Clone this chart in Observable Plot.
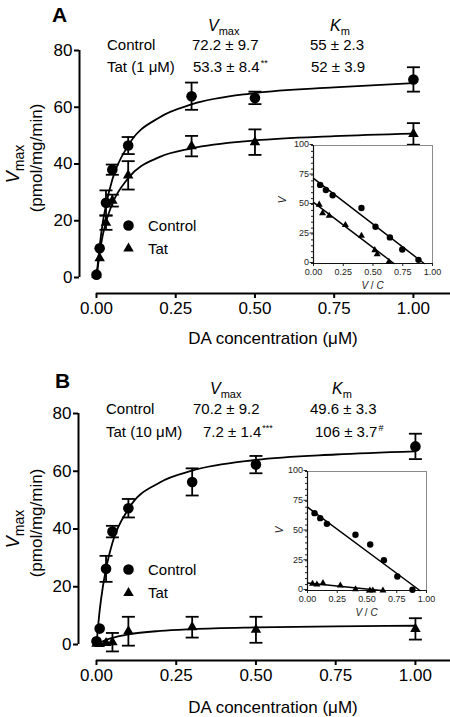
<!DOCTYPE html>
<html>
<head>
<meta charset="utf-8">
<script src="https://cdn.jsdelivr.net/npm/d3@7"></script>
<script src="https://cdn.jsdelivr.net/npm/@observablehq/plot@0.6"></script>
<style>
  html, body { margin: 0; padding: 0; background: white; }
  #root { position: relative; width: 450px; height: 717px; overflow: hidden; background: white; }
</style>
</head>
<body>
<div id="root"></div>
<script>
// ---------------- DATA ----------------
const conc = [0, 0.01, 0.03, 0.05, 0.1, 0.3, 0.5, 1];
const xTicks = [0, 0.25, 0.5, 0.75, 1];
const yTicks = [0, 20, 40, 60, 80];
const insetXTicks = [0, 0.25, 0.5, 0.75, 1];
const insetYTicks = [0, 25, 50, 75, 100];

// Panel A (Tat 1 uM)
const ctrlA = [1, 10.3, 26.3, 38, 46.5, 63.9, 63.3, 69.8];
const ctrlAErr = [0, 0, 4.4, 1.8, 3, 4.8, 2.2, 4.3];
const tatA = [1, 6.8, 19.3, 27.1, 36, 46.3, 47.7, 50.6];
const tatAErr = [0, 0, 2.5, 2.1, 5, 3.6, 4.5, 3.8];
// Panel B (Tat 10 uM)
const ctrlB = [1.1, 5.5, 26.2, 39.1, 47.2, 56.3, 62.3, 68.6];
const ctrlBErr = [0, 0, 4.5, 2, 3.2, 4.7, 3, 4.4];
const tatB = [0.3, 0.2, 0.5, 0.8, 4.6, 6.0, 5.1, 5.4];
const tatBErr = [0, 0, 0, 3.2, 5, 3.6, 4.5, 3.7];

// fitted curves
const fitX = [0, 0.01, 0.02, 0.03, 0.05, 0.1, 0.2, 0.3, 0.5, 0.75, 1];
const fitCtrlA = [0, 11, 19.5, 25.5, 34.5, 46.5, 56.5, 61, 65, 67, 68.5];
const fitTatA = [0, 8.5, 15, 19.5, 26, 35, 42.5, 45.5, 48.3, 49.8, 50.7];
const fitCtrlB = [0, 11.8, 20, 26.2, 35.2, 46.9, 56.2, 60.2, 63.9, 65.8, 66.9];
const fitTatB = [0, 0.6, 1.1, 1.6, 2.3, 3.5, 4.7, 5.3, 5.9, 6.3, 6.5];

// Insets (Eadie-Hofstee: V vs V/C)
const insCtrlAx = [0.056, 0.104, 0.161, 0.403, 0.521, 0.642, 0.746, 0.882];
const insCtrlAy = [66.6, 62.3, 57.8, 47, 31.2, 22.1, 11.9, 3.1];
const insTatAx = [0.048, 0.076, 0.132, 0.268, 0.403, 0.515, 0.535, 0.634];
const insTatAy = [49.9, 42.5, 40.5, 32.6, 23.5, 11.3, 7.9, 1.4];
const insLineCtrlAx = [0, 0.93], insLineCtrlAy = [72.2, 0];
const insLineTatAx = [0, 0.676], insLineTatAy = [51.8, 0];

const insCtrlBx = [0.059, 0.107, 0.163, 0.403, 0.527, 0.642, 0.755, 0.882];
const insCtrlBy = [65, 60.8, 56, 46.8, 38.7, 25.5, 11.8, 0.6];
const insTatBx = [0.042, 0.079, 0.13, 0.276, 0.403, 0.524, 0.549, 0.634];
const insTatBy = [5.6, 5, 6.2, 4.2, 1.1, 0, 0, 0];
const insLineCtrlBx = [0, 0.944], insLineCtrlBy = [70, 0];
const insLineTatBx = [0, 0.62], insLineTatBy = [6.4, 0];

// Texts
const panelLetters = ["A", "B"];
const groupNames = ["Control", "Tat"];
const headerRowsA = ["Control", "Tat (1 \u03bcM)"];
const headerRowsB = ["Control", "Tat (10 \u03bcM)"];
const vmaxA = ["72.2 \u00b1 9.7", "53.3 \u00b1 8.4"], vmaxAMark = ["", "**"];
const kmA = ["55 \u00b1 2.3", "52 \u00b1 3.9"], kmAMark = ["", ""];
const vmaxB = ["70.2 \u00b1 9.2", "7.2 \u00b1 1.4"], vmaxBMark = ["", "***"];
const kmB = ["49.6 \u00b1 3.3", "106 \u00b1 3.7"], kmBMark = ["", "#"];
const xTitle = "DA concentration (\u03bcM)";
const yUnit = "(pmol/mg/min)";

// ---------------- HELPERS ----------------
const FONT = '"Liberation Sans", Arial, Helvetica, sans-serif';
const root = document.getElementById("root");
const zip = (xs, ys, es) => xs.map((x, i) => ({x, y: ys[i], e: es ? es[i] : 0}));
const cap = {draw(ctx) { ctx.moveTo(-6.5, 0); ctx.lineTo(6.5, 0); }};

function place(el, left, top) {
  el.style.position = "absolute";
  el.style.left = left + "px";
  el.style.top = top + "px";
  root.appendChild(el);
}
function addText(html, left, top, css = "") {
  const d = document.createElement("div");
  d.innerHTML = html;
  d.style.cssText = `position:absolute;left:${left}px;top:${top}px;line-height:1;white-space:nowrap;font-family:${FONT};color:black;` + css;
  root.appendChild(d);
  return d;
}
const sub = (t, fs = 11, dy = 4) => `<span style="font-size:${fs}px;position:relative;top:${dy}px">${t}</span>`;
const sup = (t) => t ? `<span style="font-size:9px;position:relative;top:-6px;margin-left:1px">${t}</span>` : "";

function mainPlot(cfg) {
  const ctrl = zip(conc, cfg.ctrl, cfg.ctrlErr);
  const tat = zip(conc, cfg.tat, cfg.tatErr);
  const bars = [...ctrl, ...tat].filter(d => d.e > 0);
  const caps = bars.flatMap(d => [{x: d.x, y: d.y - d.e}, {x: d.x, y: d.y + d.e}]);
  return Plot.plot({
    width: 450, height: cfg.height,
    marginLeft: cfg.ml, marginRight: 0, marginTop: cfg.mt, marginBottom: cfg.mb,
    x: {domain: cfg.xd},
    y: {domain: cfg.yd},
    style: {fontFamily: FONT, fontSize: "17px", background: "transparent", color: "black", overflow: "visible"},
    marks: [
      Plot.ruleX([cfg.xd[0]], {y1: 0, y2: 80, strokeWidth: 2, stroke: "black"}),
      Plot.ruleY([cfg.yd[0]], {x1: 0, x2: cfg.xd[1], strokeWidth: 2, stroke: "black"}),
      Plot.axisY({ticks: yTicks, tickSize: 5, tickPadding: 2, strokeWidth: 2, label: null, fontSize: 17}),
      Plot.axisX({ticks: xTicks, tickFormat: d3.format(".2f"), tickSize: 5, tickPadding: 3, strokeWidth: 2, label: null, fontSize: 17}),
      Plot.line(zip(fitX, cfg.fitCtrl), {x: "x", y: "y", curve: "monotone-x", strokeWidth: 1.8, stroke: "black"}),
      Plot.line(zip(fitX, cfg.fitTat), {x: "x", y: "y", curve: "monotone-x", strokeWidth: 1.8, stroke: "black"}),
      Plot.ruleX(bars, {x: "x", y1: d => d.y - d.e, y2: d => d.y + d.e, strokeWidth: 1.8, stroke: "black"}),
      Plot.dot(caps, {x: "x", y: "y", symbol: cap, stroke: "black", strokeWidth: 1.8, fill: "none"}),
      Plot.dot(ctrl, {x: "x", y: "y", r: 5.3, fill: "black", stroke: "none"}),
      Plot.dot(tat, {x: "x", y: "y", symbol: "triangle", r: 3.9, fill: "black", stroke: "none"}),
      // legend symbols
      Plot.dot([groupNames[0]], {frameAnchor: "top-left", dx: cfg.legDx, dy: cfg.legDy, r: 5.3, fill: "black", stroke: "none"}),
      Plot.dot([groupNames[1]], {frameAnchor: "top-left", dx: cfg.legDx, dy: cfg.legDy + cfg.legGap, symbol: "triangle", r: 3.9, fill: "black", stroke: "none"})
    ]
  });
}

function insetPlot(cfg) {
  return Plot.plot({
    width: 170, height: 160,
    marginLeft: 38, marginTop: 10, marginRight: 13, marginBottom: cfg.mb,
    x: {domain: [0, 1]},
    y: {domain: [0, 100]},
    style: {fontFamily: FONT, fontSize: "9px", background: "transparent", color: "#222", overflow: "visible"},
    marks: [
      Plot.frame({fill: "white", stroke: "#8a8a8a", strokeWidth: 1}),
      Plot.axisY({ticks: 20, tickSize: 2, text: null, stroke: "#222", label: null}),
      Plot.axisY({ticks: insetYTicks, tickSize: 3.5, tickPadding: 1, label: null, stroke: "#222", dy: -1}),
      Plot.axisX({ticks: insetXTicks, tickFormat: d3.format(".2f"), tickSize: 3, tickPadding: 2.5, label: null, stroke: "#222"}),
      Plot.ruleX([0], {stroke: "#111", strokeWidth: 1.2}),
      Plot.ruleY([0], {stroke: "#111", strokeWidth: 1.2}),
      Plot.line(zip(cfg.lcx, cfg.lcy), {x: "x", y: "y", stroke: "black", strokeWidth: 1.5}),
      Plot.line(zip(cfg.ltx, cfg.lty), {x: "x", y: "y", stroke: "black", strokeWidth: 1.5}),
      Plot.dot(zip(cfg.cx, cfg.cy), {x: "x", y: "y", r: 3.2, fill: "black", stroke: "none"}),
      Plot.dot(zip(cfg.tx, cfg.ty), {x: "x", y: "y", symbol: "triangle", r: 2.6, fill: "black", stroke: "none"})
    ]
  });
}

// ---------------- PANEL A ----------------
place(mainPlot({
  height: 358, ml: 79, mt: 50, mb: 65,
  xd: [-0.0536, 1.117], yd: [-5.64, 80],
  ctrl: ctrlA, ctrlErr: ctrlAErr, tat: tatA, tatErr: tatAErr,
  fitCtrl: fitCtrlA, fitTat: fitTatA,
  legDx: 49, legDy: 175, legGap: 23
}), 0, 0);

// ---------------- PANEL B ----------------
place(mainPlot({
  height: 359, ml: 78, mt: 55, mb: 57,
  xd: [-0.0564, 1.11], yd: [-5.54, 80],
  ctrl: ctrlB, ctrlErr: ctrlBErr, tat: tatB, tatErr: tatBErr,
  fitCtrl: fitCtrlB, fitTat: fitTatB,
  legDx: 50, legDy: 156, legGap: 23.5
}), 0, 358);

// insets
place(insetPlot({mb: 32, cx: insCtrlAx, cy: insCtrlAy, tx: insTatAx, ty: insTatAy,
  lcx: insLineCtrlAx, lcy: insLineCtrlAy, ltx: insLineTatAx, lty: insLineTatAy}), 275, 135);
place(insetPlot({mb: 31, cx: insCtrlBx, cy: insCtrlBy, tx: insTatBx, ty: insTatBy,
  lcx: insLineCtrlBx, lcy: insLineCtrlBy, ltx: insLineTatBx, lty: insLineTatBy}), 269, 461);

// ---------------- TEXT ----------------
function panelText(o) {
  addText(o.letter, o.letterX, o.letterY, "font-size:21px;font-weight:bold;");
  addText(`<i style="font-size:16px">V</i>${sub("max")}`, o.vmaxX, o.headY, "font-size:15px;");
  addText(`<i style="font-size:16px">K</i>${sub("m")}`, o.kmX, o.headY, "font-size:15px;");
  o.rows.forEach((r, i) => {
    const t = o.rowY[i];
    addText(r, o.rowX, t, "font-size:15px;");
    addText(o.vmax[i] + sup(o.vmaxMark[i]), o.vmaxCol[i], t, "font-size:15px;");
    addText(o.km[i] + sup(o.kmMark[i]), o.kmCol[i], t, "font-size:15px;");
  });
  // legend text
  addText(groupNames[0], 148, o.legY[0], "font-size:15px;");
  addText(groupNames[1], 148, o.legY[1], "font-size:15px;");
  // y-axis title
  addText(`<i>V</i>${sub("max", 14, 5)}`, 13, o.vLabY, "font-size:18px;transform:translate(-50%,-50%) rotate(-90deg);");
  addText(yUnit, 35.5, o.yLabY, "font-size:17px;transform:translate(-50%,-50%) rotate(-90deg);");
  // x-axis title
  addText(xTitle, 273, o.xTitleY, "font-size:17px;transform:translateX(-50%);");
  // inset titles
  addText("<i>V</i>", o.insV[0], o.insV[1], "font-size:10px;color:#222;transform:translate(-50%,-50%) rotate(-90deg);");
  addText("<i>V</i> / <i>C</i>", o.insVC[0], o.insVC[1], "font-size:10px;color:#222;transform:translate(-50%,-50%);");
}

panelText({
  letter: panelLetters[0], letterX: 52, letterY: 4,
  vmaxX: 208, kmX: 330, headY: 18,
  rows: headerRowsA, rowX: 107, rowY: [37, 59],
  vmax: vmaxA, vmaxMark: vmaxAMark, vmaxCol: [192, 193],
  km: kmA, kmMark: kmAMark, kmCol: [310, 311],
  legY: [218, 241], vLabY: 164, yLabY: 158, xTitleY: 330,
  insV: [282.5, 200], insVC: [372.5, 286]
});
panelText({
  letter: panelLetters[1], letterX: 55, letterY: 370,
  vmaxX: 210, kmX: 332, headY: 381,
  rows: headerRowsB, rowX: 106, rowY: [401, 424],
  vmax: vmaxB, vmaxMark: vmaxBMark, vmaxCol: [193, 203],
  km: kmB, kmMark: kmBMark, kmCol: [310, 315],
  legY: [562, 585], vLabY: 529, yLabY: 523, xTitleY: 699,
  insV: [280, 530], insVC: [366.5, 613]
});
</script>
</body>
</html>
